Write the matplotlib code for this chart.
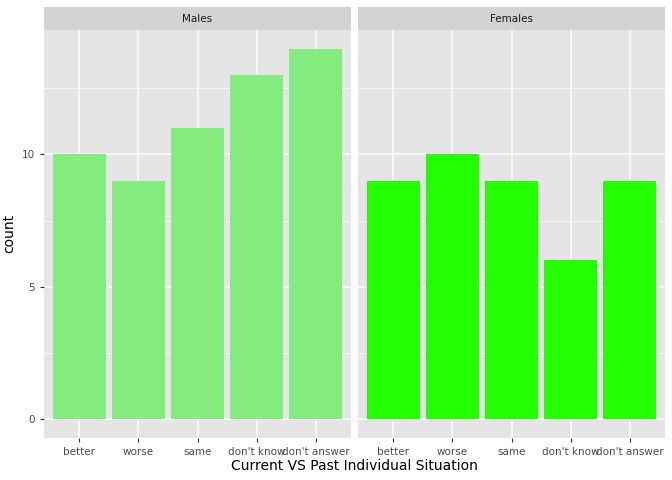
import matplotlib
matplotlib.use("Agg")
from matplotlib import pyplot as plt

# Data
categories = ["better", "worse", "same", "don't know", "don't answer"]
males = [10, 9, 11, 13, 14]
females = [9, 10, 9, 6, 9]
panels = ["Males", "Females"]
colors = ["#84EC7F", "#22FF00"]

fig = plt.figure(figsize=(6.72, 4.8), dpi=100)

ymax = max(max(males), max(females))
lefts = [44 / 672, 358 / 672]
w = 307 / 672
bottom = 1 - 437.5 / 480
h = 407.5 / 480
strip_h = 23 / 480

for i, (name, vals, col) in enumerate(zip(panels, [males, females], colors)):
    ax = fig.add_axes([lefts[i], bottom, w, h])
    ax.set_facecolor("#E5E5E5")
    x = list(range(len(categories)))
    ax.bar(x, vals, width=0.9, color=col, zorder=3)
    ax.set_xlim(-0.6, len(categories) - 0.4)
    ax.set_ylim(-0.05 * ymax, ymax * 1.05)
    ax.set_yticks([0, 5, 10])
    ax.set_yticks([2.5, 7.5, 12.5], minor=True)
    ax.set_xticks(x)
    ax.set_xticklabels(categories, fontsize=7.5, color="#4D4D4D")
    ax.grid(which="major", color="white", linewidth=1.1, zorder=0)
    ax.grid(which="minor", axis="y", color="white", linewidth=0.5, zorder=0)
    ax.tick_params(which="minor", length=0)
    ax.tick_params(which="major", length=3, color="#333333", width=0.8)
    for s in ax.spines.values():
        s.set_visible(False)
    if i == 0:
        ax.set_yticklabels(["0", "5", "10"], fontsize=7.5, color="#4D4D4D")
        ax.set_ylabel("count", fontsize=10)
    else:
        ax.tick_params(axis="y", which="both", left=False, labelleft=False)
    # facet strip
    sax = fig.add_axes([lefts[i], bottom + h, w, strip_h])
    sax.set_facecolor("#D3D3D3")
    sax.set_xticks([])
    sax.set_yticks([])
    for s in sax.spines.values():
        s.set_visible(False)
    sax.text(0.5, 0.5, name, ha="center", va="center", fontsize=7.5, color="#1A1A1A",
             transform=sax.transAxes)

fig.text((44 + 665) / 2 / 672, 1 - 466 / 480, "Current VS Past Individual Situation",
         ha="center", va="center", fontsize=10)

fig.savefig("out.png", dpi=100)
